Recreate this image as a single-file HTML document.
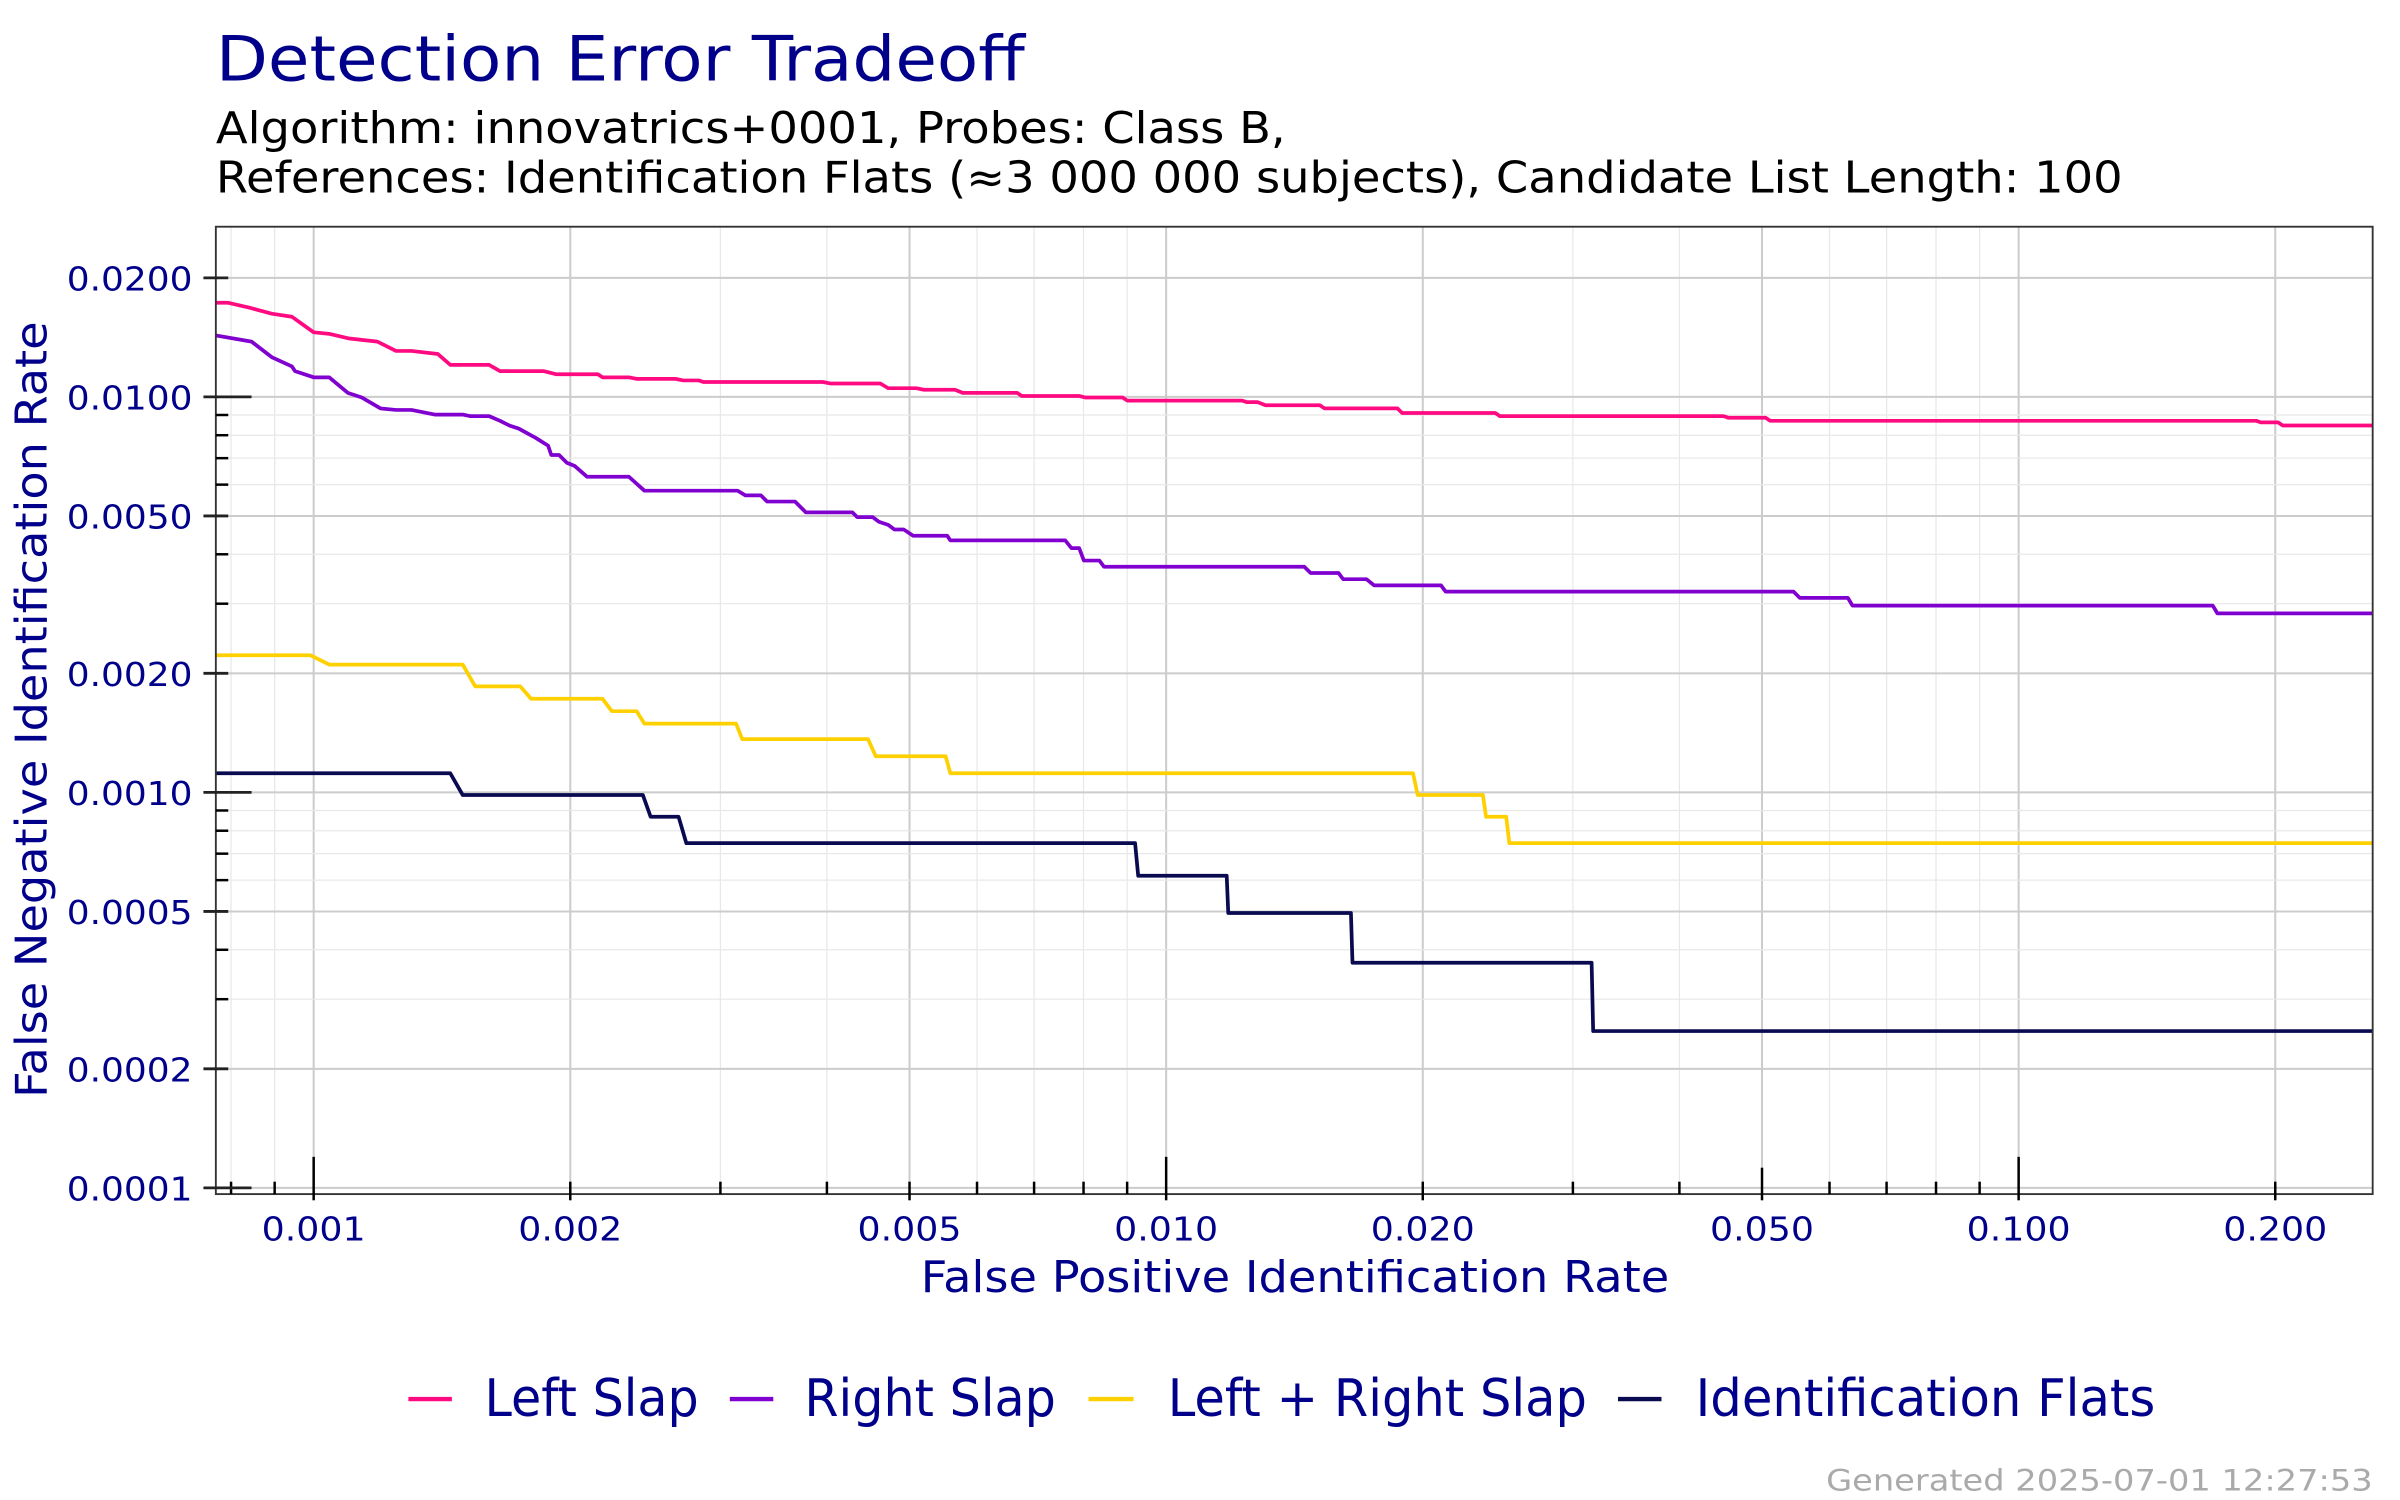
<!DOCTYPE html>
<html><head><meta charset="utf-8"><style>
html,body{margin:0;padding:0;background:#fff;}
svg{display:block;}
text{font-family:"DejaVu Sans","Liberation Sans",sans-serif;}
</style></head><body>
<svg id="s" xmlns="http://www.w3.org/2000/svg" width="2400" height="1500" viewBox="0 0 1545.6 966">
<rect width="1545.6" height="966" fill="#fff"/>
<g id="grid"></g>
<g fill="none" stroke-width="2.4" stroke-linejoin="round">
<polyline stroke="#FF0A80" points="139,195 147,195 160,198 175,202 188,204 202,214 212,215 225,218 243,220 255,226 265,226 282,228 290,235 315,235 322,239 350,239 358,241 385,241 388,243 405,243 410,244 435,244 440,245 450,245 453,246 530,246 535,247 567,247 572,250 590,250 595,251 615,251 620,253 655,253 658,255 695,255 699,256 723,256 726,258 800,258 803,259 810,259 815,261 850,261 853,263 900,263 903,266 963,266 966,268 1110,268 1113,269 1137,269 1140,271 1453,271 1456,272 1467,272 1470,274 1528,274"/>
<polyline stroke="#8000D0" points="139,216 162,220 175,230 188,236 190,239 202,243 212,243 224,253 233,256 245,263 255,264 265,264 280,267 298,267 303,268 315,268 322,271 328,274 334,276 345,282 353,287 355,293 360,293 365,298 370,300 378,307 405,307 415,316 475,316 480,319 490,319 494,323 512,323 519,330 549,330 552,333 562,333 566,336 572,338 576,341 582,341 588,345 610,345 612,348 686,348 690,353 695,353 698,361 708,361 711,365 840,365 844,369 862,369 865,373 880,373 885,377 928,377 931,381 1155,381 1159,385 1190,385 1193,390 1425,390 1428,395 1528,395"/>
<polyline stroke="#FFD000" points="139,422 200,422 212,428 298,428 306,442 335,442 342,450 388,450 394,458 410,458 415,466 474,466 478,476 559,476 564,487 609,487 612,498 910,498 913,512 955,512 957,526 970,526 972,543 1528,543"/>
<polyline stroke="#0A0A50" points="139,498 290,498 298,512 414,512 419,526 437,526 442,543 731,543 733,564 790,564 791,588 870,588 871,620 1025,620 1026,664 1528,664"/>
</g>
<rect x="139" y="146" width="1389" height="623" fill="none" stroke="#333" stroke-width="1.2"/>
<g id="ticks"></g>
<text x="139" y="52" font-size="40" fill="#00008B" textLength="521" lengthAdjust="spacingAndGlyphs">Detection Error Tradeoff</text>
<text x="139" y="92" font-size="28" fill="#000" textLength="689" lengthAdjust="spacingAndGlyphs">Algorithm: innovatrics+0001, Probes: Class B,</text>
<text x="139" y="124" font-size="28" fill="#000" textLength="1228" lengthAdjust="spacingAndGlyphs">References: Identification Flats (≈3 000 000 subjects), Candidate List Length: 100</text>
<text x="834" y="832" font-size="28" fill="#00008B" text-anchor="middle" textLength="482" lengthAdjust="spacingAndGlyphs">False Positive Identification Rate</text>
<text transform="translate(30,457) rotate(-90)" font-size="28" fill="#00008B" text-anchor="middle" textLength="500" lengthAdjust="spacingAndGlyphs">False Negative Identification Rate</text>
<g stroke-width="2.8">
<line x1="263" y1="901" x2="291" y2="901" stroke="#FF0A80"/>
<line x1="470" y1="901" x2="498" y2="901" stroke="#8000D0"/>
<line x1="701" y1="901" x2="730" y2="901" stroke="#FFD000"/>
<line x1="1042" y1="901" x2="1070" y2="901" stroke="#0A0A50"/>
</g>
<g font-size="33" fill="#00008B">
<text x="312" y="912" textLength="138" lengthAdjust="spacingAndGlyphs">Left Slap</text>
<text x="518" y="912" textLength="162" lengthAdjust="spacingAndGlyphs">Right Slap</text>
<text x="752" y="912" textLength="270" lengthAdjust="spacingAndGlyphs">Left + Right Slap</text>
<text x="1092" y="912" textLength="296" lengthAdjust="spacingAndGlyphs">Identification Flats</text>
</g>
<text x="1528" y="960" font-size="19" fill="#aaa" text-anchor="end" textLength="352" lengthAdjust="spacingAndGlyphs">Generated 2025-07-01 12:27:53</text>
</svg>
<script>
(function(){
var NS="http://www.w3.org/2000/svg";
var g=document.getElementById('grid'),t=document.getElementById('ticks');
function el(p,n,a,txt){var e=document.createElementNS(NS,n);for(var k in a)e.setAttribute(k,a[k]);if(txt)e.textContent=txt;p.appendChild(e);return e;}
function X(v){return 202+549*Math.log10(v/0.001);}
function Y(v){return 765-254.7*Math.log10(v/0.0001);}
var L=139,R=1528,T=146,B=769;
var xmaj=[0.001,0.002,0.005,0.01,0.02,0.05,0.1,0.2];
var xlab=["0.001","0.002","0.005","0.010","0.020","0.050","0.100","0.200"];
[0.0001,0.001,0.01,0.1].forEach(function(d){for(var m=1;m<10;m++){var v=d*m,x=X(v);if(x<L||x>R)continue;
 var maj=xmaj.some(function(q){return Math.abs(q/v-1)<1e-6;});
 el(g,'line',{x1:x,x2:x,y1:T,y2:B,stroke:maj?'#cccccc':'#e8e8e8','stroke-width':maj?1.3:0.8});
 var dec=(m==1);
 el(t,'line',{x1:x,x2:x,y1:dec?745:(m==5&&d==0.01?752:761),y2:maj?773:769,stroke:'#000','stroke-width':1.6});
}});
xmaj.forEach(function(v,i){el(t,'text',{x:X(v),y:799,'font-size':21,fill:'#00008B','text-anchor':'middle',textLength:67,lengthAdjust:'spacingAndGlyphs'},xlab[i]);});
var ymaj=[0.0001,0.0002,0.0005,0.001,0.002,0.005,0.01,0.02];
var ylab=["0.0001","0.0002","0.0005","0.0010","0.0020","0.0050","0.0100","0.0200"];
[0.0001,0.001,0.01].forEach(function(d){for(var m=1;m<10;m++){var v=d*m,y=Y(v);if(y<T||y>B)continue;
 var maj=ymaj.some(function(q){return Math.abs(q/v-1)<1e-6;});
 el(g,'line',{x1:L,x2:R,y1:y,y2:y,stroke:maj?'#cccccc':'#e8e8e8','stroke-width':maj?1.3:0.8});
 if(maj) el(t,'line',{x1:131,x2:(m==1?162:147),y1:y,y2:y,stroke:'#222','stroke-width':1.8});
 else el(t,'line',{x1:139,x2:147,y1:y,y2:y,stroke:'#000','stroke-width':1.6});
}});
ymaj.forEach(function(v,i){el(t,'text',{x:124,y:Y(v)+8,'font-size':21,fill:'#00008B','text-anchor':'end',textLength:81,lengthAdjust:'spacingAndGlyphs'},ylab[i]);});
})();
</script>
</body></html>
